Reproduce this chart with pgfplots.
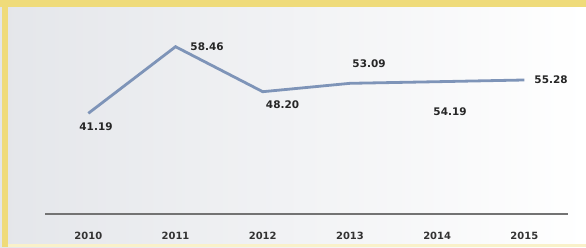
\documentclass[border=0pt]{standalone}
\usepackage{pgfplots}
\pgfplotsset{compat=1.18}
\usepackage{fontspec}
\setmainfont{DejaVu Sans}
\definecolor{band}{HTML}{EFDB7A}
\definecolor{bgl}{HTML}{E4E6EA}
\definecolor{ln}{HTML}{7E94B8}
\begin{document}
\begin{tikzpicture}[x=1bp,y=1bp]
\shade[left color=bgl, right color=white] (0,0) rectangle (586,247);
\fill[band] (0,240) rectangle (586,247);
\fill[band] (2,0) rectangle (8,247);
\fill[band!40] (8,0) rectangle (586,3);
\begin{axis}[
  at={(45bp,33bp)}, anchor=south west,
  width=523bp, height=207bp, scale only axis,
  xmin=2009.503, xmax=2015.501, ymin=20.32, ymax=67.51,
  axis x line=bottom, axis y line=none,
  x axis line style={-, draw=black!55, line width=1.6bp},
  xtick={2010,2011,2012,2013,2014,2015},
  xticklabels={2010,2011,2012,2013,2014,2015},
  major tick length=0pt,
  xticklabel style={font=\fontsize{10}{11}\selectfont\bfseries, text=black!80, yshift=-14.5bp},
  clip=false,
]
\addplot[ln, line width=2.8bp, mark=none] coordinates {
  (2010,43.27) (2011,58.46) (2012,48.20) (2013,50.11) (2014,50.48) (2015,50.87)
};
\begin{scope}[every node/.style={font=\fontsize{10.5}{11}\selectfont\bfseries, text=black!85}]
\node at (axis cs:2010.088,40.22) {41.19};
\node at (axis cs:2011.361,58.46) {58.46};
\node at (axis cs:2012.227,45.17) {48.20};
\node at (axis cs:2013.219,54.68) {53.09};
\node at (axis cs:2014.148,43.57) {54.19};
\node at (axis cs:2015.306,50.87) {55.28};
\end{scope}
\end{axis}
\end{tikzpicture}
\end{document}
